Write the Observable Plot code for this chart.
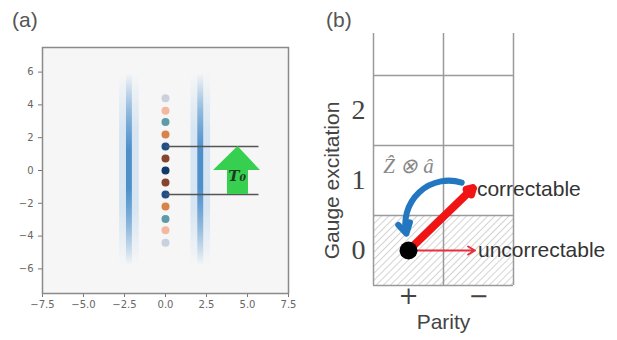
<!DOCTYPE html>
<html>
<head>
<meta charset="utf-8">
<script src="https://cdn.jsdelivr.net/npm/d3@7"></script>
<script src="https://cdn.jsdelivr.net/npm/@observablehq/plot@0.6"></script>
<style>
  html, body { margin: 0; padding: 0; background: #fff; }
  #root { position: relative; width: 617px; height: 340px; overflow: hidden; background: #fff; }
  .panel { position: absolute; top: 0; }
  .plabel { position: absolute; font-family: "Liberation Sans", Arial, sans-serif; font-size: 21px; color: #555; }
</style>
</head>
<body>
<svg width="0" height="0" style="position:absolute">
  <defs>
    <pattern id="hatch" patternUnits="userSpaceOnUse" width="5" height="5" patternTransform="rotate(45)">
      <line x1="0" y1="0" x2="0" y2="5" stroke="#a8a8a8" stroke-width="1"></line>
    </pattern>
    <linearGradient id="stripeV" x1="0" y1="0" x2="0" y2="1">
      <stop offset="0" stop-color="#3f86c6" stop-opacity="0"></stop>
      <stop offset="0.2" stop-color="#3f86c6" stop-opacity="0.5"></stop>
      <stop offset="0.4" stop-color="#3f86c6" stop-opacity="0.9"></stop>
      <stop offset="0.6" stop-color="#3f86c6" stop-opacity="0.9"></stop>
      <stop offset="0.8" stop-color="#3f86c6" stop-opacity="0.5"></stop>
      <stop offset="1" stop-color="#3f86c6" stop-opacity="0"></stop>
    </linearGradient>
    <linearGradient id="haloV" x1="0" y1="0" x2="0" y2="1">
      <stop offset="0" stop-color="#9cc6ea" stop-opacity="0"></stop>
      <stop offset="0.3" stop-color="#9cc6ea" stop-opacity="0.35"></stop>
      <stop offset="0.7" stop-color="#9cc6ea" stop-opacity="0.35"></stop>
      <stop offset="1" stop-color="#9cc6ea" stop-opacity="0"></stop>
    </linearGradient>
    <filter id="blurX" x="-50%" y="-20%" width="200%" height="140%">
      <feGaussianBlur stdDeviation="1.8 1"></feGaussianBlur>
    </filter>
    <filter id="blurS" x="-20%" y="-20%" width="140%" height="140%">
      <feGaussianBlur stdDeviation="0.7"></feGaussianBlur>
    </filter>
  </defs>
</svg>
<div id="root">
  <div class="plabel" style="left:12px; top:8px;">(a)</div>
  <div class="plabel" style="left:326px; top:8px;">(b)</div>
</div>
<script>
// ---------- Panel (a) data ----------
const xTicksA = [-7.5, -5, -2.5, 0, 2.5, 5, 7.5];
const xTickLabelsA = ["−7.5", "−5.0", "−2.5", "0.0", "2.5", "5.0", "7.5"];
const yTicksA = [-6, -4, -2, 0, 2, 4, 6];
const yTickLabelsA = ["−6", "−4", "−2", "0", "2", "4", "6"];

const stripeX = [-2.2, 2.15];
const stripeBottom = [-5.8, -5.8];
const stripeTop = [5.9, 5.9];

const peakY = [4.4, 3.65, 2.95, 2.2, 1.46, 0.73, 0, -0.73, -1.46, -2.2, -2.95, -3.65, -4.4];
const peakColor = ["#c9d1de", "#f4b8a0", "#5d9ba8", "#d9834b", "#1d4f88", "#86452f", "#0e3a6c",
                   "#86452f", "#1d4f88", "#d9834b", "#5d9ba8", "#f4b8a0", "#c9d1de"];

const levelY = [1.46, -1.46];
const levelXStart = [0, 0];
const levelXEnd = [5.67, 5.67];

const arrowHeadX = [2.93, 4.42, 5.79];
const arrowHeadY = [0, 1.46, 0];
const shaftX = [3.78, 5.06];
const shaftY = [-1.46, 0];
const arrowLabel = "T₀";
const arrowLabelPos = [4.37, -0.35];

// ---------- Panel (b) data ----------
const parityTicks = [0, 1];
const parityLabels = ["+", "−"];
const gaugeTicks = [0, 1, 2];
const gaugeLabels = ["0", "1", "2"];
const gridX = [-0.5, 0.5, 1.5];
const gridY = [-0.5, 0.5, 1.5, 2.5];
const codeSpaceX = [-0.5, 1.5];
const codeSpaceY = [-0.5, 0.5];
const stateX = 0, stateY = 0;
const correctableEnd = [0.92, 0.89];
const uncorrectableEnd = [0.95, 0];
const recoveryStart = [0.76, 0.97];
const recoveryEnd = [-0.03, 0.24];
const recoveryLabel = "Ẑ ⊗ â";
const recoveryLabelPos = [0.0, 1.2];

// ---------- Panel (a) ----------
const stripes = stripeX.map((x, i) => ({x, y1: stripeBottom[i], y2: stripeTop[i]}));
const peaks = peakY.map((y, i) => ({x: 0, y, c: peakColor[i]}));
const levels = levelY.map((y, i) => ({x1: levelXStart[i], x2: levelXEnd[i], y}));
const head = arrowHeadX.map((x, i) => ({x, y: arrowHeadY[i]}));
const green = "#36cf50";

const plotA = Plot.plot({
  width: 310, height: 340,
  marginLeft: 42, marginRight: 22, marginTop: 47, marginBottom: 47,
  x: {domain: [-7.5, 7.5]},
  y: {domain: [-7.5, 7.5]},
  style: {fontFamily: "DejaVu Sans, sans-serif", fontSize: "10px", color: "#666", background: "transparent", overflow: "visible"},
  marks: [
    Plot.frame({fill: "#f6f6f6"}),
    Plot.rect(stripes, {x1: d => d.x - 0.6, x2: d => d.x + 0.6, y1: "y1", y2: "y2", fill: "url(#haloV)", ariaLabel: "halo"}),
    Plot.rect(stripes, {x1: d => d.x - 0.18, x2: d => d.x + 0.18, y1: "y1", y2: "y2", fill: "url(#stripeV)", ariaLabel: "stripes"}),
    Plot.dot(peaks, {x: "x", y: "y", fill: "c", r: 4, ariaLabel: "peaks"}),
    Plot.link(levels, {x1: "x1", x2: "x2", y1: "y", y2: "y", stroke: "#555", strokeWidth: 1.5}),
    Plot.rect([{x1: shaftX[0], x2: shaftX[1], y1: shaftY[0], y2: shaftY[1]}], {x1: "x1", x2: "x2", y1: "y1", y2: "y2", fill: green}),
    Plot.areaY(head, {x: "x", y: "y", fill: green}),
    Plot.text([arrowLabel], {x: arrowLabelPos[0], y: arrowLabelPos[1], text: d => d, fontFamily: "DejaVu Serif, serif", fontStyle: "italic", fontWeight: "bold", fontSize: 15, fill: "#1f3a20"}),
    Plot.axisX({ticks: xTicksA, tickFormat: d => xTickLabelsA[xTicksA.indexOf(d)], tickSize: 4, tickPadding: 3, stroke: "#777", label: null}),
    Plot.axisY({ticks: yTicksA, tickFormat: d => yTickLabelsA[yTicksA.indexOf(d)], tickSize: 4, tickPadding: 5, stroke: "#777", label: null}),
    Plot.frame({stroke: "#8a8a8a", strokeWidth: 1.5})
  ]
});
plotA.classList.add("panel");
plotA.style.left = "0px";
d3.select(plotA).selectAll("g[aria-label=stripes], g[aria-label=halo]").attr("filter", "url(#blurX)");
d3.select(plotA).selectAll("g[aria-label=peaks]").attr("filter", "url(#blurS)");
document.getElementById("root").appendChild(plotA);

// ---------- Panel (b) ----------
const plotB = Plot.plot({
  width: 317, height: 340,
  marginLeft: 73, marginRight: 104, marginTop: 33, marginBottom: 55,
  x: {domain: [-0.5, 1.5]},
  y: {domain: [-0.5, 3.1]},
  style: {fontFamily: "Liberation Sans, Arial, sans-serif", color: "#333", background: "transparent", overflow: "visible"},
  marks: [
    Plot.rect([0], {x1: codeSpaceX[0], x2: codeSpaceX[1], y1: codeSpaceY[0], y2: codeSpaceY[1], fill: "url(#hatch)"}),
    Plot.ruleX(gridX, {y1: -0.5, y2: 3.1, stroke: "#9a9a9a", strokeWidth: 1.5}),
    Plot.ruleY(gridY, {x1: -0.5, x2: 1.5, stroke: "#9a9a9a", strokeWidth: 1.5}),
    Plot.arrow([0], {x1: recoveryStart[0], y1: recoveryStart[1], x2: recoveryEnd[0], y2: recoveryEnd[1], bend: -60, stroke: "#2277c0", strokeWidth: 6, headLength: 3}),
    Plot.arrow([0], {x1: stateX, y1: stateY, x2: correctableEnd[0], y2: correctableEnd[1], stroke: "#f01414", strokeWidth: 8, headLength: 1.2}),
    Plot.arrow([0], {x1: stateX, y1: stateY, x2: uncorrectableEnd[0], y2: uncorrectableEnd[1], stroke: "#e8303c", strokeWidth: 2, headLength: 6}),
    Plot.dot([0], {x: stateX, y: stateY, r: 9, fill: "#000"}),
    Plot.text(["correctable"], {x: correctableEnd[0], y: correctableEnd[1], text: d => d, dx: 4, dy: 1, textAnchor: "start", fontSize: 21, fill: "#333"}),
    Plot.text(["uncorrectable"], {x: uncorrectableEnd[0], y: uncorrectableEnd[1], text: d => d, dx: 3, dy: 0, textAnchor: "start", fontSize: 21, fill: "#333"}),
    Plot.text([recoveryLabel], {x: recoveryLabelPos[0], y: recoveryLabelPos[1], text: d => d, fontFamily: "Liberation Serif, serif", fontStyle: "italic", fontSize: 21, fill: "#888"}),
    Plot.axisY({ticks: gaugeTicks, tickFormat: d => gaugeLabels[gaugeTicks.indexOf(d)], tickSize: 0, tickPadding: 8, fontSize: 28, fontFamily: "Liberation Serif, serif", fill: "#444", label: null}),
    Plot.axisX({ticks: parityTicks, tickFormat: d => parityLabels[parityTicks.indexOf(d)], tickSize: 0, tickPadding: 1, fontSize: 24, fontFamily: "DejaVu Serif, serif", fill: "#444", label: null}),
    Plot.text(["Gauge excitation"], {x: -0.5, y: 1, text: d => d, dx: -41, rotate: -90, fontSize: 21, fill: "#444"}),
    Plot.text(["Parity"], {x: 0.5, frameAnchor: "bottom", text: d => d, dy: 43, fontSize: 21, fill: "#444"})
  ]
});
plotB.classList.add("panel");
plotB.style.left = "300px";
document.getElementById("root").appendChild(plotB);
</script>
</body>
</html>
